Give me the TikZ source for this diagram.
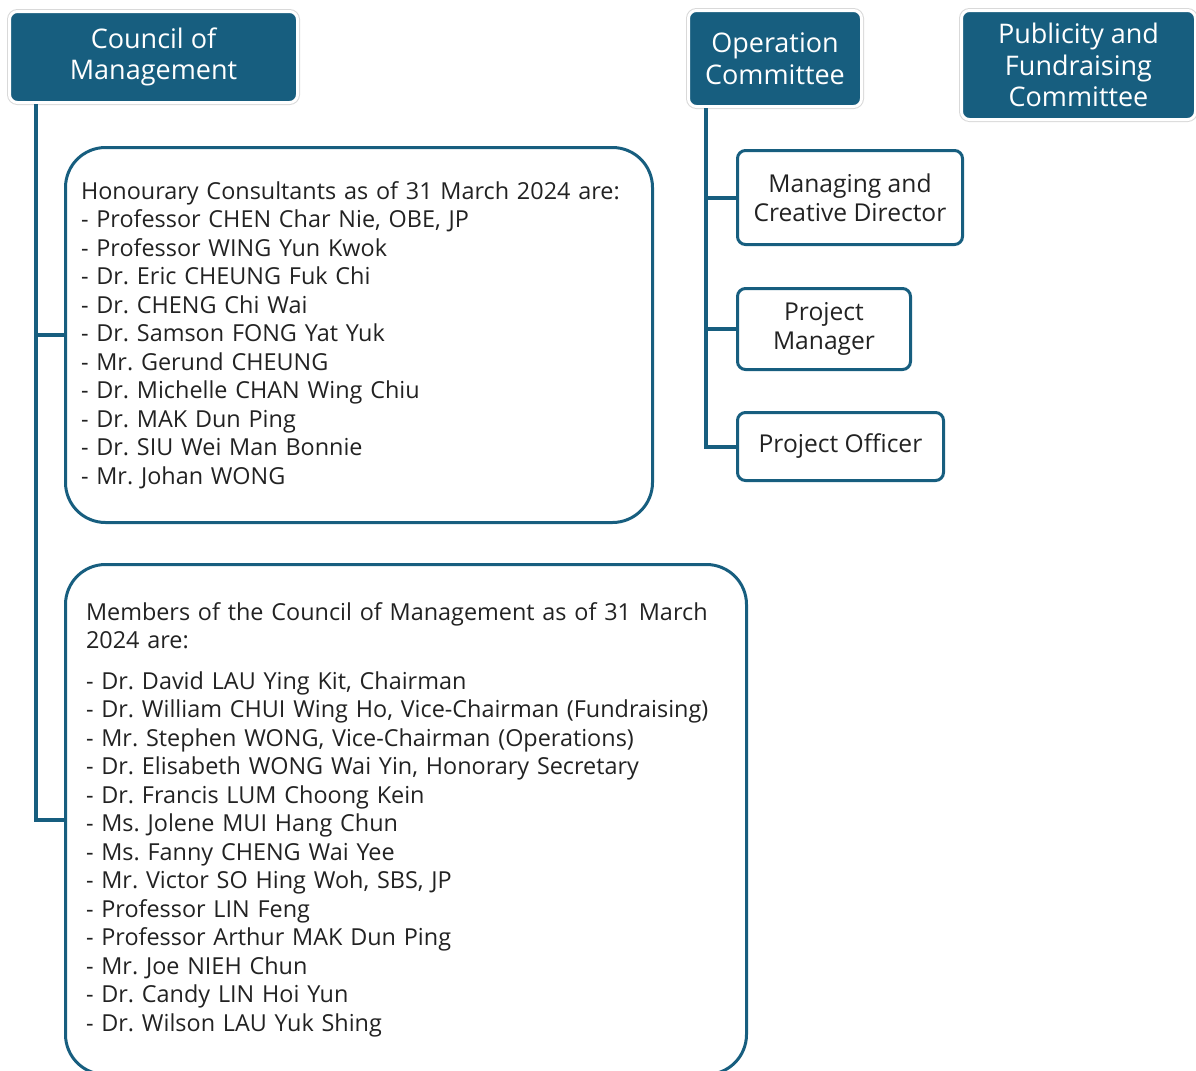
\documentclass[tikz,border=0pt]{standalone}
\usepackage{fontspec}
\setmainfont{Open Sans}
\usepackage{tikz}
\usepackage{xcolor}
\definecolor{teal-dark}{HTML}{175E7F}
\definecolor{ink}{HTML}{222222}
\frenchspacing
\tikzset{
    head-box/.style = {fill=teal-dark, draw=white, line width=1.5pt, rounded corners=4pt, text=white, align=center,
        font=\fontsize{13.5}{15.9}\selectfont, inner sep=0pt, anchor=north west,
        preaction={draw=black!15, line width=2.5pt}},
    list-box/.style = {draw=teal-dark, line width=1.5pt, rounded corners=20pt, text=ink, align=left,
        font=\fontsize{11.7}{14.25}\selectfont, inner ysep=0pt, anchor=north west},
    role-box/.style = {draw=teal-dark, line width=1.5pt, rounded corners=4pt, text=ink, align=center,
        font=\fontsize{12.3}{14.5}\selectfont, inner sep=0pt, anchor=north west},
    link/.style = {draw=teal-dark, line width=2pt},
}

\begin{document}
\begin{tikzpicture}[x=0.5pt, y=-0.5pt]
\useasboundingbox (0,0) rectangle (1196,1071);

\node [head-box, minimum width=144pt, minimum height=45.5pt] (council) at (8,10) {Council of\\Management};
\node [head-box, minimum width=86.5pt, minimum height=48pt] (opcom) at (687,9) {Operation\\Committee};
\node [head-box, minimum width=117pt, minimum height=54.5pt] (pubcom) at (960,9) {Publicity and\\Fundraising\\Committee};

\node [list-box, minimum width=293.5pt, minimum height=187.5pt, text width=278pt, inner xsep=7.5pt] (honor) at (64,146) {%
    Honourary Consultants as of 31 March 2024 are:\\
    - Professor CHEN Char Nie, OBE, JP\\
    - Professor WING Yun Kwok\\
    - Dr. Eric CHEUNG Fuk Chi\\
    - Dr. CHENG Chi Wai\\
    - Dr. Samson FONG Yat Yuk\\
    - Mr. Gerund CHEUNG\\
    - Dr. Michelle CHAN Wing Chiu\\
    - Dr. MAK Dun Ping\\
    - Dr. SIU Wei Man Bonnie\\
    - Mr. Johan WONG};

\node [list-box, minimum width=340.5pt, minimum height=255pt, text width=320pt, inner xsep=10pt] (members) at (64,563) {%
    Members of the Council of Management as of 31 March\\
    2024 are:\\[6pt]
    - Dr. David LAU Ying Kit, Chairman\\
    - Dr. William CHUI Wing Ho, Vice-Chairman (Fundraising)\\
    - Mr. Stephen WONG, Vice-Chairman (Operations)\\
    - Dr. Elisabeth WONG Wai Yin, Honorary Secretary\\
    - Dr. Francis LUM Choong Kein\\
    - Ms. Jolene MUI Hang Chun\\
    - Ms. Fanny CHENG Wai Yee\\
    - Mr. Victor SO Hing Woh, SBS, JP\\
    - Professor LIN Feng\\
    - Professor Arthur MAK Dun Ping\\
    - Mr. Joe NIEH Chun\\
    - Dr. Candy LIN Hoi Yun\\
    - Dr. Wilson LAU Yuk Shing};

\node [role-box, minimum width=112.5pt, minimum height=47pt] (director) at (736,149) {Managing and\\Creative Director};
\node [role-box, minimum width=86.5pt, minimum height=40.5pt] (manager) at (736,287) {Project\\Manager};
\node [role-box, minimum width=103pt, minimum height=34pt] (officer) at (736,411) {Project Officer};

% council branches
\draw [link] ([xshift=14pt]council.south west) |- (honor.west);
\draw [link] ([xshift=14pt]council.south west) |- (members.west);

% operation branches
\draw [link] ([xshift=9.5pt]opcom.south west) |- (director.west);
\draw [link] ([xshift=9.5pt]opcom.south west) |- (manager.west);
\draw [link] ([xshift=9.5pt]opcom.south west) |- (officer.west);
\end{tikzpicture}
\end{document}
